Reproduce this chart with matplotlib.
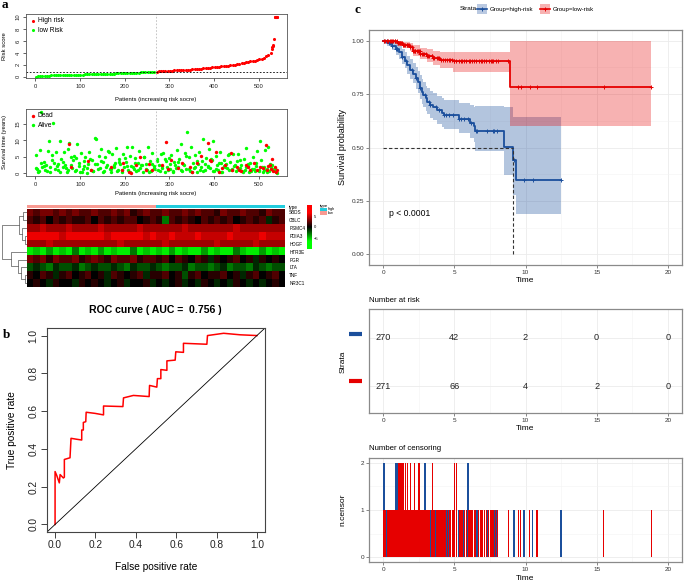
import numpy as np
import matplotlib
matplotlib.use("Agg")
import matplotlib.pyplot as plt
from matplotlib.colors import LinearSegmentedColormap, ListedColormap
from matplotlib.patches import Rectangle

W, H = 685, 584
plt.rcParams['font.family'] = ['Liberation Sans', 'DejaVu Sans']
NARROW = ['Liberation Sans Narrow', 'Liberation Sans', 'DejaVu Sans']

# ---------------- data: panel a ----------------
# risk score, sampled every 5 patients (1, 6, ..., 526) + the steep tail
risk_low = [0.04, 0.10, 0.13, 0.15, 0.17, 0.19, 0.20, 0.22, 0.23, 0.24,
            0.25, 0.27, 0.28, 0.29, 0.30, 0.31, 0.32, 0.33, 0.34, 0.35,
            0.37, 0.38, 0.39, 0.40, 0.41, 0.42, 0.43, 0.45, 0.46, 0.47,
            0.48, 0.50, 0.51, 0.52, 0.53, 0.55, 0.56, 0.57, 0.59, 0.60,
            0.61, 0.63, 0.64, 0.65, 0.67, 0.68, 0.70, 0.72, 0.73, 0.75,
            0.77, 0.79, 0.81, 0.84]
risk_high = [0.88, 0.90, 0.93, 0.95, 0.97, 0.99, 1.01, 1.03, 1.06, 1.08,
             1.10, 1.12, 1.15, 1.17, 1.20, 1.22, 1.25, 1.28, 1.31, 1.34,
             1.38, 1.42, 1.46, 1.50, 1.54, 1.58, 1.62, 1.66, 1.70, 1.74,
             1.78, 1.83, 1.88, 1.93, 1.98, 2.04, 2.10, 2.17, 2.24, 2.32,
             2.40, 2.48, 2.56, 2.64, 2.72, 2.82, 2.93, 3.05, 3.20, 3.40,
             3.65, 4.00]
tail_patient = [528, 530, 531, 532, 533, 535, 536, 537, 538, 539, 540, 541]
tail_risk = [4.6, 4.9, 5.1, 5.3, 6.3, 10, 10, 10, 10, 10, 10, 10]
risk_cutoff = 0.88
split_patient = 270.5

# survival time of alive patients 1, 4, 7, ..., 541
surv_alive = [5.6, 1.2, 0.5, 7.1, 18.7, 2.0, 3.5, 1.0, 2.6, 6.9,
              9.7, 0.4, 5.7, 15.4, 3.2, 6.4, 2.1, 0.9, 9.7, 4.5,
              1.8, 6.6, 2.4, 0.3, 7.5, 9.3, 5.1, 1.5, 3.9, 0.7,
              4.8, 8.8, 2.2, 0.5, 6.2, 1.3, 3.6, 5.0, 0.2, 2.8,
              6.5, 1.1, 4.0, 0.6, 10.8, 10.3, 2.9, 5.4, 1.7, 7.3,
              3.3, 0.8, 4.9, 2.5, 6.8, 1.4, 0.3, 5.9, 2.0, 3.0,
              7.6, 1.0, 4.3, 2.7, 0.4, 6.0, 1.9, 3.4, 8.1, 0.9,
              5.3, 2.3, 7.9, 1.2, 4.6, 0.6, 3.1, 6.7, 1.6, 2.5,
              0.4, 5.0, 2.9, 1.1, 8.0, 3.7, 0.7, 6.1, 2.2, 1.4,
              4.4, 0.9, 2.6, 5.8, 1.5, 6.3, 0.3, 3.6, 2.0, 4.8,
              1.2, 5.5, 0.5, 3.3, 2.4, 7.0, 1.8, 4.2, 9.0, 0.8,
              2.7, 6.2, 1.3, 12.4, 4.9, 0.6, 8.1, 3.0, 1.7, 5.7,
              0.4, 2.9, 6.6, 1.9, 3.8, 10.5, 0.9, 4.6, 2.2, 7.4,
              1.5, 3.9, 9.8, 0.7, 5.2, 2.6, 1.0, 6.5, 3.2, 0.5,
              4.1, 1.8, 2.8, 5.6, 0.9, 3.5, 1.3, 6.0, 2.1, 0.6,
              3.6, 5.9, 1.6, 2.4, 0.8, 4.4, 1.1, 7.8, 2.9, 0.5,
              3.1, 1.4, 5.1, 0.7, 2.3, 6.9, 1.0, 9.8, 3.9, 0.4,
              2.0, 7.2, 1.2, 8.0, 0.6, 1.8, 2.6, 0.9, 1.5, 0.3,
              0.2]
# more alive patients 2, 8, 14, ..., 536
surv_alive_b = [1.5, 0.8, 3.2, 2.1, 0.6, 1.9, 4.0, 1.2, 2.7, 0.4,
                3.5, 1.7, 0.9, 2.4, 5.2, 1.1, 3.0, 0.5, 2.2, 1.6,
                4.3, 0.7, 2.9, 1.3, 3.8, 0.3, 2.0, 6.4, 1.4, 2.6,
                0.8, 3.4, 1.0, 4.7, 2.3, 0.5, 1.8, 3.1, 0.9, 2.5,
                5.0, 1.2, 0.4, 2.8, 1.6, 3.6, 0.7, 2.1, 4.2, 1.0,
                2.9, 0.6, 1.5, 3.3, 0.9, 2.4, 5.4, 1.3, 0.4, 2.0,
                3.7, 1.1, 0.6, 2.7, 1.9, 4.5, 0.8, 1.4, 3.0, 0.5,
                2.2, 1.7, 6.0, 0.9, 2.6, 1.2, 3.9, 0.4, 1.8, 2.3,
                0.7, 1.4, 3.2, 0.6, 2.0, 1.1, 0.5, 2.7, 1.3, 0.8]
dead_patient = [75, 80, 118, 125, 170, 195, 197, 210, 213, 225, 235, 248, 255, 262,
                283, 292, 297, 303, 318, 328, 345, 350, 362, 370, 385, 390, 393,
                405, 410, 417, 425, 437, 440, 450, 455, 460, 470, 475, 480, 488,
                495, 503, 508, 515, 517, 520, 524, 527, 530, 532, 535, 538, 540]
dead_time = [9.0, 2.0, 3.6, 1.0, 2.0, 1.0, 3.1, 0.3, 0.2, 2.4, 5.0, 1.0, 2.8, 0.9,
             2.6, 9.4, 1.4, 4.0, 1.6, 3.0, 2.0, 0.4, 3.1, 5.4, 9.1, 4.0, 3.6,
             6.4, 0.5, 1.6, 2.6, 6.1, 1.0, 2.0, 1.0, 0.7, 2.6, 2.0, 1.0, 3.0,
             1.0, 2.0, 1.5, 8.5, 1.0, 2.2, 2.6, 1.4, 4.3, 0.8, 1.8, 0.4, 0.9]

# heatmap (10 genes x 40 patient blocks, low-risk left, high-risk right)
genes = ["SBDS", "CBLC", "PSMC4", "PDIA3", "HDGF", "HTR3E", "PGR", "LTA", "TNF", "NR3C1"]
heat = [
    [3, 2, 3, 3, 2, 3, 2, 3, 2, 2, 3, 2, 2, 3, 2, 3, 1, 2, 3, 2, 2, 3, 2, 2, 3, 2, 3, 2, 2, 1, 3, 2, 2, 3, 2, 2, 1, 3, 2, 2],
    [2, 1, 2, 0, 2, 1, 2, 1, 1, 2, 0, 2, 1, 2, 1, 2, 2, 0, 1, 2, 1, -3, 2, 1, 2, 1, 0, 2, 1, 2, 1, 2, 0, 1, 2, 1, 2, -1, 1, 2],
    [4, 4, 5, 4, 4, 4, 5, 4, 4, 4, 4, 5, 4, 4, 4, 4, 4, 5, 4, 4, 4, 4, 4, 4, 5, 4, 4, 4, 4, 4, 4, 4, 5, 4, 4, 4, 4, 4, 4, 4],
    [6, 6, 6, 6, 6, 5, 6, 6, 6, 6, 6, 6, 5, 6, 6, 6, 6, 6, 5, 6, 5, 5, 6, 5, 5, 5, 6, 5, 5, 5, 5, 6, 5, 5, 5, 5, 6, 5, 5, 5],
    [4, 4, 4, 5, 4, 4, 4, 4, 4, 4, 4, 4, 4, 4, 5, 4, 4, 4, 4, 4, 4, 5, 4, 4, 4, 4, 4, 4, 4, 5, 4, 4, 4, 4, 4, 5, 4, 4, 4, 4],
    [-6, -5, -6, -4, -6, -5, -6, -3, -6, -5, -6, -4, -6, -5, -6, -6, -3, -6, -5, -6, -5, -6, -4, -6, -5, -6, -6, -4, -6, -5, -6, -6, -3, -5, -6, -6, -4, -6, -5, -6],
    [3, 2, 3, 1, 3, 2, 2, 3, 1, 2, 3, 2, 1, 3, 2, 2, 3, 1, 2, 2, 1, 2, 0, 2, 1, 0, 2, 1, -1, 1, 0, 1, 2, 0, 1, -1, 1, 0, 1, 0],
    [-2, -1, -2, -3, -1, -2, -2, -1, -3, -2, -1, -2, -2, -1, -2, -3, -1, -2, -2, -1, -2, -3, -2, -2, -1, -3, -2, -2, -3, -2, -1, -3, -2, -2, -3, -1, -2, -3, -2, -2],
    [1, 0, 2, 1, -1, 1, 2, 0, 1, 2, 0, 1, -1, 2, 1, 0, 1, 2, -1, 1, 1, 2, 0, 1, -2, 1, 2, 0, 1, 1, 2, 0, 1, -1, 1, 2, 0, 1, 2, 0],
    [0, 1, 0, -1, 1, 0, 0, -1, 1, 0, 1, 0, -1, 0, 1, -1, 0, 0, 1, -1, 0, -1, 0, 1, -1, 0, -1, 1, 0, -1, 0, -1, 1, 0, -1, 0, -1, 0, 1, 0],
]
heat_type = ["low"] * 20 + ["high"] * 20
# (left, right, height) merges of the gene dendrogram
gene_tree = (((0, 1, 4), (2, (3, 4, 2), 5), 8),
             (5, (6, (7, (8, 9, 2), 6), 9), 16), 25)

# ---------------- data: panel b ----------------
roc_fpr = [0, 0, 0.008, 0.021, 0.025, 0.041, 0.046, 0.046, 0.074, 0.079, 0.107, 0.132, 0.132,
           0.14, 0.14, 0.152, 0.154, 0.198, 0.24, 0.24, 0.336, 0.339, 0.388, 0.466, 0.468,
           0.504, 0.507, 0.524, 0.524, 0.554, 0.554, 0.595, 0.598, 0.636, 0.636, 0.752,
           0.755, 0.835, 0.917, 1.0]
roc_tpr = [0, 0.28, 0.26, 0.22, 0.264, 0.246, 0.25, 0.344, 0.353, 0.456, 0.451, 0.447, 0.5,
           0.5, 0.54, 0.544, 0.594, 0.588, 0.58, 0.627, 0.624, 0.67, 0.683, 0.677, 0.736,
           0.727, 0.772, 0.772, 0.82, 0.816, 0.866, 0.87, 0.914, 0.911, 0.959, 0.954,
           1.0, 1.012, 1.004, 1.0]

# ---------------- data: panel c ----------------
high_t = [0, 0.3, 0.6, 0.9, 1.1, 1.3, 1.5, 1.7, 1.9, 2.1, 2.3, 2.45, 2.6, 2.7, 2.8, 3.0,
          3.1, 3.3, 3.5, 3.8, 4.1, 4.3, 5.3, 6.1, 6.35, 6.45, 8.5, 9.15, 9.35, 12.5]
high_s = [1.0, 0.99, 0.975, 0.96, 0.945, 0.925, 0.905, 0.885, 0.865, 0.845, 0.825, 0.805,
          0.78, 0.76, 0.745, 0.73, 0.715, 0.70, 0.69, 0.675, 0.66, 0.65, 0.635, 0.615,
          0.60, 0.578, 0.503, 0.44, 0.349, 0.349]
high_lo = [1.0, 0.975, 0.955, 0.935, 0.915, 0.893, 0.87, 0.845, 0.822, 0.80, 0.775, 0.753,
           0.727, 0.705, 0.69, 0.672, 0.655, 0.64, 0.628, 0.612, 0.595, 0.585, 0.568,
           0.545, 0.528, 0.483, 0.37, 0.28, 0.189, 0.189]
high_hi = [1.0, 1.0, 0.995, 0.985, 0.975, 0.96, 0.945, 0.93, 0.912, 0.895, 0.877, 0.86,
           0.838, 0.82, 0.805, 0.79, 0.78, 0.765, 0.755, 0.742, 0.73, 0.722, 0.71, 0.697,
           0.69, 0.695, 0.69, 0.644, 0.644, 0.644]
low_t = [0, 0.5, 1.0, 1.4, 1.9, 2.1, 2.6, 3.05, 3.5, 4.0, 4.9, 8.9, 18.85]
low_s = [1.0, 0.997, 0.987, 0.98, 0.969, 0.953, 0.94, 0.93, 0.919, 0.909, 0.903, 0.784, 0.784]
low_lo = [1.0, 0.99, 0.975, 0.965, 0.95, 0.93, 0.912, 0.898, 0.885, 0.872, 0.855, 0.60, 0.60]
low_hi = [1.0, 1.0, 0.998, 0.993, 0.987, 0.978, 0.968, 0.96, 0.953, 0.948, 0.945, 1.0, 1.0]

# censoring times (a repeated time = two censorings)
high_cens = [0.05, 0.05, 0.25, 0.4, 0.5, 0.65, 0.9, 0.9, 0.95, 0.95, 1.0, 1.0, 1.35, 1.6,
             2.0, 2.3, 2.6, 2.95, 2.95, 3.25, 3.3, 3.7, 3.9, 4.3, 4.4, 4.6, 4.9, 5.3, 5.5,
             5.65, 5.95, 5.95, 6.2, 6.5, 6.6, 7.3, 7.7, 7.8, 8.0, 9.2, 9.9, 10.5, 12.5]
low_cens = [0.05, 0.15, 0.3, 0.35, 0.45, 0.55, 0.6, 0.7, 0.8, 0.85, 0.95, 1.05, 1.1, 1.1,
            1.15, 1.2, 1.25, 1.25, 1.3, 1.4, 1.4, 1.45, 1.55, 1.55, 1.65, 1.7, 1.7, 1.75,
            1.8, 1.9, 1.9, 2.0, 2.1, 2.15, 2.2, 2.2, 2.25, 2.35, 2.45, 2.5, 2.5, 2.55, 2.6,
            2.7, 2.8, 2.9, 3.0, 3.05, 3.15, 3.25, 3.4, 3.45, 3.45, 3.5, 3.6, 3.75, 3.85,
            3.95, 4.05, 4.2, 4.35, 4.5, 4.65, 4.7, 4.85, 4.95, 5.0, 5.0, 5.15, 5.15, 5.35,
            5.45, 5.55, 5.7, 5.85, 6.0, 6.1, 6.25, 6.4, 6.5, 6.7, 6.85, 6.95, 7.1, 7.25,
            7.4, 7.55, 7.65, 7.75, 7.9, 8.05, 8.8, 9.5, 9.65, 10.3, 10.8, 15.5, 18.85]

risk_times = [0, 5, 10, 15, 20]
high_at_risk = [270, 42, 2, 0, 0]
low_at_risk = [271, 66, 4, 2, 0]

BLUE = '#1B4F9C'
RED = '#E60000'

fig = plt.figure(figsize=(W / 100, H / 100), dpi=100)


def box(l, t, r, b):
    return fig.add_axes([l / W, 1 - b / H, (r - l) / W, (b - t) / H])


def r_style(ax, size, col='#555555'):
    for s in ax.spines.values():
        s.set_color(col)
        s.set_linewidth(0.6)
    ax.tick_params(labelsize=size, length=2.5, width=0.5, pad=1.5, colors='#222222')
    for lab in ax.get_yticklabels():
        lab.set_rotation(90)
        lab.set_va('center')


# ---- a: risk score ----
ax = box(26, 14, 287, 78)
pat = np.concatenate([np.arange(1, 527, 5), tail_patient])
val = np.array(risk_low + risk_high + tail_risk)
lowm = pat <= split_patient
ax.scatter(pat[~lowm], val[~lowm], s=5, c='#FF0000', lw=0, label='High risk')
ax.scatter(pat[lowm], val[lowm], s=5, c='#00FF00', lw=0, label='low Risk')
ax.axhline(risk_cutoff, color='black', lw=0.6, ls=(0, (2, 2)))
ax.axvline(split_patient, color='#BBBBBB', lw=0.6, ls=(0, (2, 2)))
ax.set_xlim(-20.6, 562.6)
ax.set_ylim(-0.2, 10.5)
ax.set_xticks([0, 100, 200, 300, 400, 500])
ax.set_yticks([0, 2, 4, 6, 8, 10])
r_style(ax, 4.2)
ax.legend(loc='upper left', frameon=False, fontsize=4.8, handletextpad=0.1,
          borderaxespad=0.3, labelspacing=0.35, handlelength=1.2, borderpad=0.2)

# ---- a: survival scatter ----
ax = box(26, 109, 287, 176)
ax.scatter(np.arange(1, 542, 3), surv_alive, s=6, c='#00FF00', lw=0, label='Alive', zorder=2)
ax.scatter(np.arange(2, 537, 6), surv_alive_b, s=6, c='#00FF00', lw=0, zorder=2)
ax.scatter(dead_patient, dead_time, s=6, c='#FF0000', lw=0, label='Dead', zorder=3)
ax.axvline(split_patient, color='#BBBBBB', lw=0.6, ls=(0, (2, 2)))
ax.set_xlim(-20.6, 562.6)
ax.set_ylim(-0.8, 19.5)
ax.set_xticks([0, 100, 200, 300, 400, 500])
ax.set_yticks([0, 5, 10, 15])
r_style(ax, 4.2)
h, l = ax.get_legend_handles_labels()
ax.legend(h[::-1], l[::-1], loc='upper left', frameon=False, fontsize=4.8, handletextpad=0.1,
          borderaxespad=0.3, labelspacing=0.35, handlelength=1.2, borderpad=0.2)

# ---- a: heatmap ----
gcmap = LinearSegmentedColormap.from_list('gbr', ['#00FF00', '#000000', '#FF0000'])
ax = box(27, 208.5, 285, 287)
ax.imshow(np.array(heat), aspect='auto', cmap=gcmap, vmin=-6.5, vmax=6.5, interpolation='nearest')
ax.set_xticks([])
ax.yaxis.tick_right()
ax.set_yticks(range(len(genes)))
ax.set_yticklabels(genes, fontsize=3.3)
ax.tick_params(length=0, pad=3)
for s in ax.spines.values():
    s.set_visible(False)

ax = box(27, 205, 285, 208.5)
ax.imshow([[0 if t == 'low' else 1 for t in heat_type]], aspect='auto',
          cmap=ListedColormap(['#F99A92', '#22CCDD']), vmin=0, vmax=1)
ax.set_xticks([])
ax.yaxis.tick_right()
ax.set_yticks([0])
ax.set_yticklabels(['type'], fontsize=3.3)
ax.tick_params(length=0, pad=3)
for s in ax.spines.values():
    s.set_visible(False)

ax = box(0, 208.5, 27, 287)


def draw_tree(node):
    if isinstance(node, int):
        return node, 0
    a, b, hgt = node
    ya, ha = draw_tree(a)
    yb, hb = draw_tree(b)
    ax.plot([ha, hgt, hgt, hb], [ya, ya, yb, yb], color='#555555', lw=0.5)
    return (ya + yb) / 2, hgt


draw_tree(gene_tree)
ax.set_xlim(27, 0)
ax.set_ylim(9.5, -0.5)
ax.axis('off')

# color key
ax = box(307, 205, 312, 249)
ax.imshow(np.linspace(10, -10, 100)[:, None], aspect='auto', cmap=gcmap, vmin=-6.5, vmax=6.5,
          extent=[0, 1, -10, 10])
ax.set_xticks([])
ax.yaxis.tick_right()
ax.set_yticks([-5, 0, 5])
ax.tick_params(labelsize=3, length=0, pad=1.5)
for s in ax.spines.values():
    s.set_visible(False)

# ---- b: ROC ----
ax = box(47, 328, 265, 532)
ax.plot(roc_fpr, roc_tpr, color='#FF0000', lw=1.1)
ax.axline((0, 0), (1, 1), color='black', lw=0.6)
ax.set_xlim(-0.04, 1.04)
ax.set_ylim(-0.04, 1.04)
ticks = [0, 0.2, 0.4, 0.6, 0.8, 1.0]
ax.set_xticks(ticks)
ax.set_yticks(ticks)
ax.set_xticklabels(['%.1f' % v for v in ticks])
ax.set_yticklabels(['%.1f' % v for v in ticks])
for s in ax.spines.values():
    s.set_color('#444444')
    s.set_linewidth(0.8)
ax.tick_params(labelsize=7.3, length=4, width=0.6, pad=2, colors='#222222')
for lab in ax.get_yticklabels():
    lab.set_rotation(90)
    lab.set_va('center')


# ---- c: KM ----
def gg_style(ax, xt, yt, ylim):
    ax.set_xlim(-1, 21)
    ax.set_ylim(*ylim)
    ax.set_xticks(xt)
    ax.set_yticks(yt)
    ax.set_xticks([(a + b) / 2 for a, b in zip(xt[:-1], xt[1:])], minor=True)
    ax.set_yticks([(a + b) / 2 for a, b in zip(yt[:-1], yt[1:])], minor=True)
    ax.grid(which='major', color='#EBEBEB', lw=0.6)
    ax.grid(which='minor', color='#F3F3F3', lw=0.4)
    ax.set_axisbelow(True)
    for s in ax.spines.values():
        s.set_color('#8A8A8A')
        s.set_linewidth(0.9)
    ax.tick_params(which='major', labelsize=4.6, length=2, width=0.5, colors='#555555',
                   labelcolor='#333333', pad=1.5)
    ax.tick_params(which='minor', length=0)


def step_at(t_arr, s_arr, x):
    return np.array(s_arr)[np.searchsorted(t_arr, x, side='right') - 1]


ax = box(369, 30, 682, 265)
gg_style(ax, [0, 5, 10, 15, 20], [0, 0.25, 0.5, 0.75, 1.0], (-0.05, 1.05))
ax.set_yticklabels(['0.00', '0.25', '0.50', '0.75', '1.00'])
ax.fill_between(high_t, high_lo, high_hi, step='post', color=BLUE, alpha=0.33, lw=0)
ax.fill_between(low_t, low_lo, low_hi, step='post', color=RED, alpha=0.3, lw=0)
ax.step(high_t, high_s, where='post', color=BLUE, lw=1.3)
ax.step(low_t, low_s, where='post', color=RED, lw=1.3)
for cens, tt, ss, c in [(high_cens, high_t, high_s, BLUE), (low_cens, low_t, low_s, RED)]:
    u = np.unique(cens)
    ax.plot(u, step_at(tt, ss, u), ls='none', marker='+', ms=3.5, mew=0.7, color=c)
med = np.array(high_t)[np.argmax(np.array(high_s) <= 0.5)]
ax.plot([0, med], [0.5, 0.5], color='#333333', lw=0.8, ls=(0, (3, 2)))
ax.plot([med, med], [0, 0.5], color='#333333', lw=0.8, ls=(0, (3, 2)))
ax.text(0.4, 0.19, 'p < 0.0001', fontsize=6.2, family=NARROW, va='center', ha='left')

# risk table
ax = box(369, 309, 682, 413)
gg_style(ax, [0, 5, 10, 15, 20], [1, 2], (0.44, 2.6))
ax.set_yticks([], minor=True)
ax.set_yticklabels([])
ax.tick_params(axis='y', length=0)
for t, n1, n2 in zip(risk_times, high_at_risk, low_at_risk):
    ax.text(t, 2, str(n1), ha='center', va='center', fontsize=6.6, family=NARROW, color='#222222')
    ax.text(t, 1, str(n2), ha='center', va='center', fontsize=6.6, family=NARROW, color='#222222')

# number of censoring
ax = box(369, 458, 682, 562)
gg_style(ax, [0, 5, 10, 15, 20], [0, 1, 2], (-0.1, 2.1))
for cens, c in [(high_cens, BLUE), (low_cens, RED)]:
    u, n = np.unique(cens, return_counts=True)
    ax.bar(u, n, width=0.1, color=c, lw=0, antialiased=False)

# ---- overlay: letters, titles, labels, legends ----
ov = fig.add_axes([0, 0, 1, 1])
ov.set_xlim(0, W)
ov.set_ylim(H, 0)
ov.axis('off')
serif = ['Liberation Serif', 'DejaVu Serif']
ov.text(5, 5, 'a', family=serif, weight='bold', fontsize=9.5, ha='center', va='center')
ov.text(7, 335, 'b', family=serif, weight='bold', fontsize=9.5, ha='center', va='center')
ov.text(357, 10, 'c', family=serif, weight='bold', fontsize=9.5, ha='center', va='center')

ov.text(156, 99, 'Patients (increasing risk socre)', fontsize=4.2, ha='center', va='center')
ov.text(156, 194, 'Patients (increasing risk socre)', fontsize=4.2, ha='center', va='center')
ov.text(5, 46, 'Risk score', fontsize=4.2, ha='center', va='center', rotation=90)
ov.text(5, 142, 'Survival time (years)', fontsize=4.2, ha='center', va='center', rotation=90)

# heatmap type legend
ov.text(320, 205.5, 'type', fontsize=3.2, va='center')
ov.add_patch(Rectangle((320, 207.5), 7, 3.5, facecolor='#22CCDD', lw=0))
ov.add_patch(Rectangle((320, 211), 7, 3.5, facecolor='#F99A92', lw=0))
ov.text(328, 209.2, 'high', fontsize=2.8, va='center')
ov.text(328, 212.8, 'low', fontsize=2.8, va='center')

ov.text(155, 310, 'ROC curve ( AUC =  0.756 )', fontsize=7.6, weight='bold', ha='center', va='center')
ov.text(156, 567, 'False positive rate', fontsize=7.3, ha='center', va='center')
ov.text(12, 430, 'True positive rate', fontsize=7.3, ha='center', va='center', rotation=90)

# KM legend
ov.text(460, 9, 'Strata', fontsize=4.6, family=NARROW, va='center')
for x0, c, lab in [(477, BLUE, 'Group=high-risk'), (540, RED, 'Group=low-risk')]:
    ov.add_patch(Rectangle((x0, 4), 10, 10, facecolor=c, alpha=0.3, lw=0))
    ov.plot([x0, x0 + 10], [9, 9], color=c, lw=1.2)
    ov.plot([x0 + 5], [9], marker='+', ms=3.5, mew=0.7, color=c)
    ov.text(x0 + 13, 9, lab, fontsize=4.4, family=NARROW, va='center')

ov.text(343, 147, 'Survival probability', fontsize=6.5, family=NARROW, ha='center', va='center', rotation=90)
ov.text(525, 281, 'Time', fontsize=6, family=NARROW, ha='center', va='center')
ov.text(369, 300, 'Number at risk', fontsize=5.6, family=NARROW, va='center')
ov.text(343, 362, 'Strata', fontsize=6, family=NARROW, ha='center', va='center', rotation=90)
ov.plot([349, 362], [334, 334], color=BLUE, lw=3, solid_capstyle='butt')
ov.plot([349, 362], [381, 381], color=RED, lw=3, solid_capstyle='butt')
ov.text(525, 428, 'Time', fontsize=6, family=NARROW, ha='center', va='center')
ov.text(369, 449, 'Number of censoring', fontsize=5.6, family=NARROW, va='center')
ov.text(343, 510, 'n.censor', fontsize=6, family=NARROW, ha='center', va='center', rotation=90)
ov.text(525, 578, 'Time', fontsize=6, family=NARROW, ha='center', va='center')

fig.savefig('out.png', dpi=100)
